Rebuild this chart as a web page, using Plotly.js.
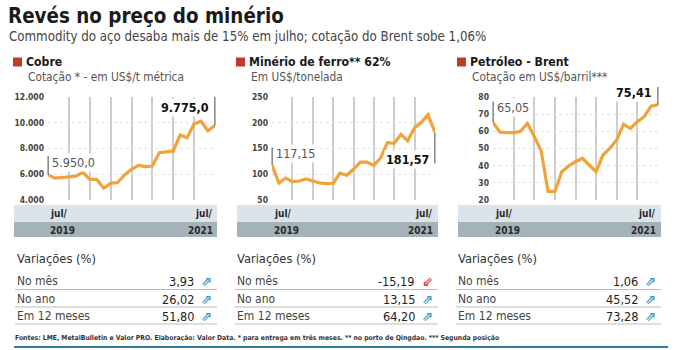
<!DOCTYPE html>
<html><head><meta charset="utf-8">
<script src="https://cdn.plot.ly/plotly-3.0.1.min.js"></script>
<style>html,body{margin:0;padding:0;background:#fff;}#chart{width:687px;height:350px;}</style>
</head><body><div id="chart"></div>
<script>
// ---------- DATA ----------
const months = ["jul/19","ago/19","set/19","out/19","nov/19","dez/19","jan/20","fev/20","mar/20","abr/20","mai/20","jun/20","jul/20","ago/20","set/20","out/20","nov/20","dez/20","jan/21","fev/21","mar/21","abr/21","mai/21","jun/21","jul/21"];
const cobre = [5950,5700,5750,5830,5850,6150,5600,5600,4920,5290,5360,5950,6390,6690,6590,6640,7670,7740,7810,9040,8840,9900,10120,9380,9775];
const ferro = [117.15,83,92.6,85.6,86.9,90.7,86.9,83.1,81.9,82.5,102,98.2,109.6,123.4,123.4,117.2,131.6,161.3,160,177.6,165,190.2,201,215.4,181.57];
const brent = [65.05,59.5,59.3,59.3,60,64.7,56.9,48.6,25,25,36.5,39.8,42.3,44.3,40.4,36.5,46.2,50.1,55,64.1,61.7,65.6,68.5,74.7,75.41];
const cobreTicks = [4000,6000,8000,10000,12000];
const ferroTicks = [50,100,150,200,250];
const brentTicks = [20,30,40,50,60,70,80];
const startYear = "2019", endYear = "2021", monthLabel = "jul/";
const panelTitles = ["Cobre","Minério de ferro** 62%","Petróleo - Brent"];
const panelUnits = ["Cotação * - em US$/t métrica","Em US$/tonelada","Cotação em US$/barril***"];
const rowLabels = ["No mês","No ano","Em 12 meses"];
const cobreVar = [3.93,26.02,51.80];
const ferroVar = [-15.19,13.15,64.20];
const brentVar = [1.06,45.52,73.28];
const title = "Revés no preço do minério";
const subtitle = "Commodity do aço desaba mais de 15% em julho; cotação do Brent sobe 1,06%";
const tableTitle = "Variações (%)";
const footer = "Fontes: LME, MetalBulletin e Valor PRO. Elaboração: Valor Data. * para entrega em três meses. ** no porto de Qingdao. *** Segunda posição";

// ---------- LAYOUT HELPERS ----------
const W = 687, H = 350;
const PX = x => x / W, PY = y => 1 - y / H;
const FONT = '"DejaVu Sans Condensed","Liberation Sans Narrow","DejaVu Sans",sans-serif';
const ARROWFONT = '"DejaVu Sans",sans-serif';
const LINE = '#f2a23a';

function fmt(v, dec){
  let s = Math.abs(v).toFixed(dec).split('.');
  let i = s[0].replace(/\B(?=(\d{3})+(?!\d))/g, '.');
  return (v < 0 ? '-' : '') + i + (dec ? ',' + s[1] : '');
}

const series = [cobre, ferro, brent];
const ticks = [cobreTicks, ferroTicks, brentTicks];
const vars = [cobreVar, ferroVar, brentVar];
const plotL = [48, 272, 493], plotR = [215, 435, 658];
const bandL = [14, 237, 458], bandR = [217, 438, 661];
const textL = [15, 235, 456];
const plotTop = 97, plotBot = 200;

const traces = [], shapes = [], annotations = [];
const layout = {
  width: W, height: H, margin: {l:0, r:0, t:0, b:0},
  paper_bgcolor: '#fff', plot_bgcolor: '#fff', showlegend: false,
  separators: ',.', font: {family: FONT, color: '#333'},
  shapes, annotations
};

function txt(x, y, text, size, opts = {}){
  annotations.push(Object.assign({
    xref: 'paper', yref: 'paper', x: PX(x), y: PY(y), text,
    showarrow: false, xanchor: 'left', yanchor: 'middle',
    font: {family: FONT, size, color: '#333'}
  }, opts));
}

txt(6, 16, '<b>' + title + '</b>', 20.4, {font: {family: FONT, size: 20.4, color: '#1a1a1a'}});
txt(7, 36, subtitle, 13.2, {font: {family: FONT, size: 13.2, color: '#444'}});

for (let i = 0; i < 3; i++) {
  const n = i === 0 ? '' : String(i + 1);
  const xa = 'xaxis' + n, ya = 'yaxis' + n;
  const xr = 'x' + n, yr = 'y' + n;
  const data = series[i];
  traces.push({x: months, y: data, xaxis: xr, yaxis: yr, type: 'scatter', mode: 'lines',
    line: {color: LINE, width: 3.2}, hoverinfo: 'skip'});
  layout[xa] = {domain: [PX(plotL[i]), PX(plotR[i])], anchor: yr, type: 'category',
    range: [-0.02, months.length - 1 + 0.02], showticklabels: false, ticks: '',
    showgrid: true, gridcolor: '#cdcdcd', gridwidth: 2, zeroline: false, showline: false, fixedrange: true};
  const tk = ticks[i];
  layout[ya] = {domain: [PY(plotBot), PY(plotTop)], anchor: xr,
    range: [tk[0], tk[tk.length - 1]], tickvals: tk, tickformat: ',.0f',
    showgrid: true, gridcolor: '#e3e3e3', griddash: 'dot', gridwidth: 1,
    zeroline: false, showline: false, ticks: '', ticklabelstandoff: 3,
    tickfont: {family: FONT, size: 8.5, color: '#444', weight: 'bold'}, fixedrange: true};

  shapes.push({type: 'rect', xref: 'paper', yref: 'paper', x0: PX(bandL[i] - 1), x1: PX(bandL[i] + 8),
    y0: PY(66.5), y1: PY(57.5), fillcolor: '#c0392b', line: {width: 0}});
  txt(bandL[i] + 10, 62, '<b>' + panelTitles[i] + '</b>', 12.2, {font: {family: FONT, size: 12.2, color: '#1a1a1a'}});
  txt(bandL[i] + 12, 77, panelUnits[i], 11.8, {font: {family: FONT, size: 11.8, color: '#555'}});

  shapes.push({type: 'rect', xref: 'paper', yref: 'paper', x0: PX(bandL[i]), x1: PX(bandR[i]),
    y0: PY(222), y1: PY(205), fillcolor: '#dce4e9', line: {width: 0}});
  shapes.push({type: 'rect', xref: 'paper', yref: 'paper', x0: PX(bandL[i]), x1: PX(bandR[i]),
    y0: PY(237), y1: PY(222), fillcolor: '#a3b3b9', line: {width: 0}});
  const bf = {family: FONT, size: 10, color: '#2a2a2a'};
  txt(plotL[i], 213.5, '<b>' + monthLabel + '</b>', 10, {font: bf});
  txt(plotR[i], 213.5, '<b>' + monthLabel + '</b>', 10, {font: bf, xanchor: 'right'});
  txt(plotL[i], 230, '<b>' + startYear + '</b>', 10, {font: bf});
  txt(plotR[i], 230, '<b>' + endYear + '</b>', 10, {font: bf, xanchor: 'right'});

  txt(textL[i], 258, tableTitle, 12.8, {font: {family: FONT, size: 12.8, color: '#333'}});
  const rowY = [281, 299, 316], lineY = [289.5, 307, 324];
  for (let r = 0; r < 3; r++) {
    txt(textL[i], rowY[r], rowLabels[r], 12, {font: {family: FONT, size: 12, color: '#444'}});
    const v = vars[i][r];
    txt(bandR[i] - 21, rowY[r], fmt(v, 2), 12.6, {xanchor: 'right', font: {family: FONT, size: 12.6, color: '#222'}});
    txt(bandR[i] - 3, rowY[r], '<b>' + (v >= 0 ? '⇗' : '⇙') + '</b>', 13.5, {xanchor: 'right',
      font: {family: ARROWFONT, size: 13.5, color: v >= 0 ? '#3a9cc8' : '#e0452f'}});
    shapes.push({type: 'line', xref: 'paper', yref: 'paper', x0: PX(textL[i]), x1: PX(bandR[i]),
      y0: PY(lineY[r]), y1: PY(lineY[r]), line: {color: '#bdbdbd', width: 1}});
  }
}

function guide(n, idx, val, ay){
  annotations.push({xref: 'x' + n, yref: 'y' + n, x: months[idx], y: val, ax: 0, ay: ay,
    text: ' ', font: {size: 1}, showarrow: true, arrowhead: 0, arrowwidth: 1.2,
    arrowcolor: '#666', standoff: 0, startstandoff: 0});
}
function label(n, idx, yval, text, bold, anchor){
  annotations.push({xref: 'x' + n, yref: 'y' + n, x: months[idx], y: yval,
    text: bold ? '<b>' + text + '</b>' : text, showarrow: false,
    xanchor: anchor, yanchor: 'middle', xshift: anchor === 'left' ? 2 : -4,
    bgcolor: '#fff', borderpad: 1,
    font: {family: FONT, size: 12.5, color: bold ? '#111' : '#555'}});
}
const last = months.length - 1;
guide('', 0, cobre[0], -21);
label('', 0, 6950, fmt(cobre[0], 1), false, 'left');
guide('', last, cobre[last], -31);
label('', last, 11170, fmt(cobre[last], 1), true, 'right');

guide('2', 0, ferro[0], -20);
label('2', 0, 141, fmt(ferro[0], 2), false, 'left');
guide('2', last, ferro[last], 33);
label('2', last, 129, fmt(ferro[last], 2), true, 'right');

guide('3', 0, brent[0], -23);
label('3', 0, 73.8, fmt(brent[0], 2), false, 'left');
guide('3', last, brent[last], -20);
annotations.push({xref: 'x3', yref: 'paper', x: months[last], y: PY(92),
  text: '<b>' + fmt(brent[last], 2) + '</b>', showarrow: false, xanchor: 'right', yanchor: 'middle',
  xshift: -4, bgcolor: '#fff', borderpad: 1, font: {family: FONT, size: 12.5, color: '#111'}});

txt(13, 338, '<b>' + footer + '</b>', 6.8, {font: {family: FONT, size: 6.8, color: '#333'}});
shapes.push({type: 'line', xref: 'paper', yref: 'paper', x0: PX(14), x1: PX(668),
  y0: PY(347), y1: PY(347), line: {color: '#2c7c9a', width: 2}});

Plotly.newPlot('chart', traces, layout, {staticPlot: true, displayModeBar: false});
</script></body></html>
